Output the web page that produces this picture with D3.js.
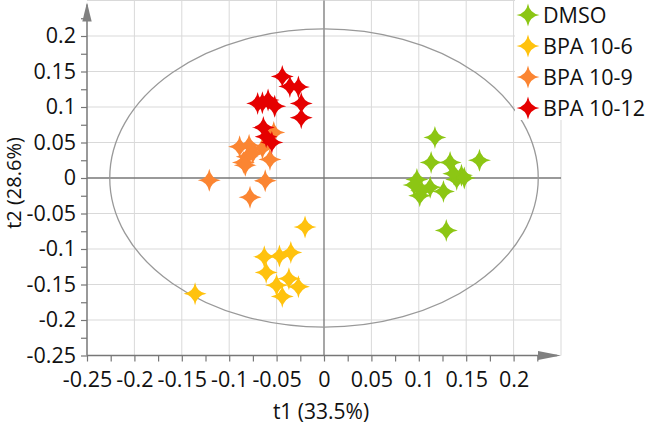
<!DOCTYPE html>
<html lang="en">
  <head>
    <meta charset="UTF-8" />
    <title>PCA scores</title>
    <style>
      body {
        margin: 0;
        background: #fff;
      }
      svg text {
        font-family: "Open Sans", Lato, sans-serif;
        fill: #111;
      }
    </style>
  </head>
  <body>
    <svg id="svg" width="646" height="425"></svg>
    <script src="https://cdn.jsdelivr.net/npm/d3@7"></script>
    <script>
      // CONSTANTS
      const WIDTH = 646;
      const HEIGHT = 425;

      const groups = ["DMSO", "BPA 10-6", "BPA 10-9", "BPA 10-12"];
      const colors = ["#8cc614", "#ffc20e", "#fb8532", "#e50000"];

      // scores (t1, t2) per group
      const dmso = [
        [0.117, 0.057], [0.113, 0.022], [0.133, 0.022], [0.164, 0.025],
        [0.145, 0.004], [0.14, -0.002], [0.137, 0.006], [0.098, -0.002],
        [0.095, -0.01], [0.101, -0.025], [0.112, -0.013], [0.126, -0.019],
        [0.129, -0.074], [0.103, -0.018], [0.148, 0.0]
      ];
      const bpa6 = [
        [-0.02, -0.069], [-0.136, -0.163], [-0.063, -0.111], [-0.047, -0.11],
        [-0.035, -0.105], [-0.061, -0.133], [-0.05, -0.151], [-0.037, -0.142],
        [-0.027, -0.153], [-0.044, -0.167]
      ];
      const bpa9 = [
        [-0.121, -0.003], [-0.078, -0.027], [-0.062, -0.004], [-0.089, 0.044],
        [-0.079, 0.046], [-0.085, 0.022], [-0.081, 0.03], [-0.083, 0.018],
        [-0.057, 0.026], [-0.053, 0.064], [-0.065, 0.042], [-0.075, 0.035]
      ];
      const bpa12 = [
        [-0.044, 0.143], [-0.036, 0.129], [-0.027, 0.128], [-0.07, 0.105],
        [-0.059, 0.11], [-0.052, 0.101], [-0.024, 0.105], [-0.024, 0.085],
        [-0.064, 0.071], [-0.061, 0.058], [-0.055, 0.05], [-0.065, 0.106]
      ];
      const series = [dmso, bpa6, bpa9, bpa12];

      const majorTicks = [-0.25, -0.2, -0.15, -0.1, -0.05, 0, 0.05, 0.1, 0.15, 0.2];
      const minorTicks = [-0.225, -0.175, -0.125, -0.075, -0.025, 0.025, 0.075, 0.125, 0.175, 0.225];
      const gridValues = [-0.2, -0.15, -0.1, -0.05, 0.05, 0.1, 0.15, 0.2, 0.25];

      // Hotelling ellipse semi-axes
      const ellipseT1 = 0.226;
      const ellipseT2 = 0.21;

      const x = d3.scaleLinear().domain([-0.25, 0.25]).range([87, 561]);
      const y = d3.scaleLinear().domain([-0.25, 0.25]).range([355.5, 0.5]);

      const fmt = (d) => (d === 0 ? "0" : String(+d.toFixed(3)));

      // 4-pointed star with concave sides
      const star4 = {
        draw(ctx, size) {
          const r = Math.sqrt(size) / 2;
          const c = r * 0.14;
          ctx.moveTo(0, -r);
          ctx.quadraticCurveTo(c, -c, r, 0);
          ctx.quadraticCurveTo(c, c, 0, r);
          ctx.quadraticCurveTo(-c, c, -r, 0);
          ctx.quadraticCurveTo(-c, -c, 0, -r);
          ctx.closePath();
        },
      };
      const starPath = d3.symbol().type(star4).size(23 * 23);

      const svg = d3.select("#svg");

      // grid
      const grid = svg.append("g").attr("stroke", "#d9d9d9").attr("stroke-width", 1);
      grid
        .selectAll("line.v")
        .data(gridValues)
        .enter()
        .append("line")
        .attr("x1", (d) => x(d))
        .attr("x2", (d) => x(d))
        .attr("y1", y(0.25))
        .attr("y2", y(-0.25));
      grid
        .selectAll("line.h")
        .data(gridValues)
        .enter()
        .append("line")
        .attr("x1", x(-0.25))
        .attr("x2", x(0.25))
        .attr("y1", (d) => y(d))
        .attr("y2", (d) => y(d));

      // zero lines
      svg
        .append("line")
        .attr("x1", x(-0.25))
        .attr("x2", x(0.25))
        .attr("y1", y(0))
        .attr("y2", y(0))
        .attr("stroke", "#777")
        .attr("stroke-width", 1.3);
      svg
        .append("line")
        .attr("x1", x(0))
        .attr("x2", x(0))
        .attr("y1", y(0.25))
        .attr("y2", y(-0.25))
        .attr("stroke", "#777")
        .attr("stroke-width", 1.3);

      // ellipse
      svg
        .append("ellipse")
        .attr("cx", x(0))
        .attr("cy", y(0))
        .attr("rx", x(ellipseT1) - x(0))
        .attr("ry", y(0) - y(ellipseT2))
        .attr("fill", "none")
        .attr("stroke", "#999")
        .attr("stroke-width", 1.3);

      // axes
      const xAxis = svg
        .append("g")
        .attr("transform", `translate(0, ${y(-0.25)})`)
        .call(d3.axisBottom(x).tickValues(majorTicks).tickSize(6).tickPadding(10).tickFormat(fmt));
      xAxis
        .append("g")
        .call(d3.axisBottom(x).tickValues(minorTicks).tickSize(6).tickFormat(""));
      const yAxis = svg
        .append("g")
        .attr("transform", `translate(${x(-0.25)}, 0)`)
        .call(d3.axisLeft(y).tickValues(majorTicks).tickSize(6).tickPadding(5).tickFormat(fmt));
      yAxis
        .append("g")
        .call(d3.axisLeft(y).tickValues(minorTicks).tickSize(6).tickFormat(""));

      svg.selectAll(".domain").remove();
      svg.selectAll(".tick line").attr("stroke", "#777").attr("stroke-width", 1.2);
      svg
        .selectAll(".tick text")
        .style("font-size", "21.5px")
        .style("font-family", '"Open Sans", Lato, sans-serif')
        .attr("fill", "#111");

      // axis lines with arrows
      svg
        .append("line")
        .attr("x1", x(-0.25))
        .attr("x2", x(0.25) - 4)
        .attr("y1", y(-0.25))
        .attr("y2", y(-0.25))
        .attr("stroke", "#777")
        .attr("stroke-width", 1.5);
      svg
        .append("line")
        .attr("x1", x(-0.25))
        .attr("x2", x(-0.25))
        .attr("y1", y(-0.25))
        .attr("y2", y(0.25) + 4)
        .attr("stroke", "#777")
        .attr("stroke-width", 1.5);
      svg
        .append("path")
        .attr("d", `M${x(0.25)},${y(-0.25)} l-23,-4.5 v9 z`)
        .attr("fill", "#808080");
      svg
        .append("path")
        .attr("d", `M${x(-0.25)},${y(0.25) + 2} l-4.7,19 h9.4 z`)
        .attr("fill", "#808080");

      // points
      series.forEach((pts, gi) => {
        svg
          .append("g")
          .selectAll("path")
          .data(pts)
          .enter()
          .append("path")
          .attr("d", starPath)
          .attr("transform", (d) => `translate(${x(d[0])}, ${y(d[1])})`)
          .attr("fill", colors[gi]);
      });

      // axis titles
      svg
        .append("text")
        .attr("x", 321)
        .attr("y", 419)
        .attr("text-anchor", "middle")
        .style("font-size", "21px")
        .text("t1 (33.5%)");
      svg
        .append("text")
        .attr("transform", "translate(21, 183) rotate(-90)")
        .attr("text-anchor", "middle")
        .style("font-size", "20px")
        .text("t2 (28.6%)");

      // legend
      const legend = svg.append("g");
      legend
        .append("rect")
        .attr("x", 515)
        .attr("y", 0)
        .attr("width", WIDTH - 515)
        .attr("height", 120)
        .attr("fill", "#fff");
      const items = legend
        .selectAll("g")
        .data(groups)
        .enter()
        .append("g")
        .attr("transform", (d, i) => `translate(528, ${15 + i * 31})`);
      items
        .append("path")
        .attr("d", starPath)
        .attr("fill", (d, i) => colors[i]);
      items
        .append("text")
        .attr("x", 15)
        .attr("dy", "0.36em")
        .style("font-size", "21.5px")
        .text((d) => d);
    </script>
  </body>
</html>
